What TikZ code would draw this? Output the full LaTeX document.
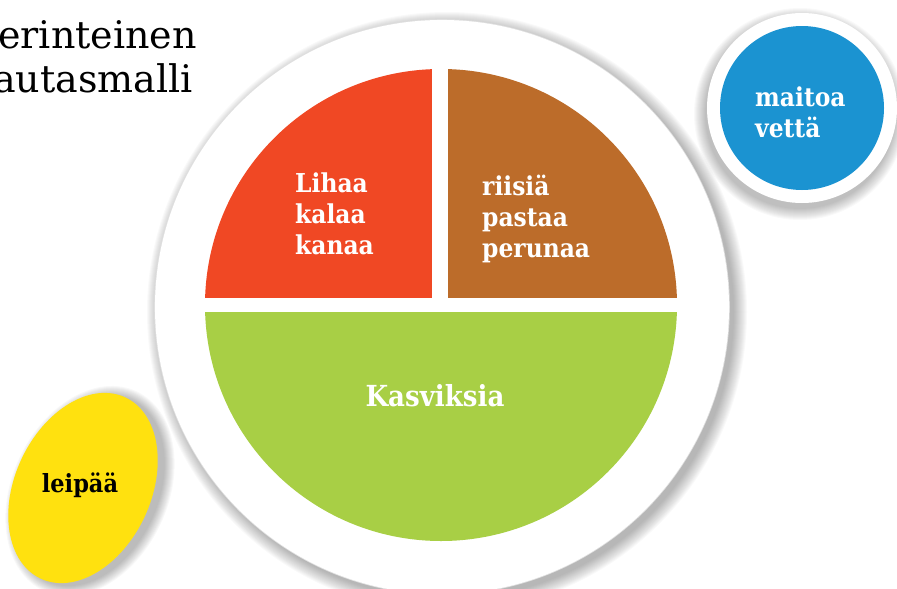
\documentclass[tikz,border=0pt]{standalone}
\usepackage{fontspec}
\setmainfont{DejaVu Serif}
\newfontfamily\labelfont{DejaVu Serif Condensed}
\definecolor{meatred}{HTML}{F04824}
\definecolor{carbbrown}{HTML}{BC6C2A}
\definecolor{veggreen}{HTML}{A8CF45}
\definecolor{milkblue}{HTML}{1B93D1}
\definecolor{breadyellow}{HTML}{FFE10F}
\tikzset{
  title/.style={anchor=base east, inner sep=0pt, font=\fontsize{38}{44}\selectfont, text=black},
  lbl/.style={anchor=base west, inner sep=0pt, font=\labelfont\bfseries\fontsize{26}{32}\selectfont, text=white},
}
\begin{document}
\begin{tikzpicture}[x=1pt,y=-1pt]
\useasboundingbox (0,0) rectangle (897,589);
\clip (0,0) rectangle (897,589);
% title (cut at left edge)
\node[title] (t1) at (197,48) {Perinteinen};
\node[title] (t2) at (193,92) {lautasmalli};
% plate shadow
\foreach \i in {0,...,13} {
  \fill[black, opacity=0.022] (447,312) circle ({300-\i});
}
\fill[black!12] (442,307) circle (287.8);
\fill[white] (442,307) circle (287);
% plate sections
\begin{scope}
  \clip (441,305) circle (236);
  \fill[meatred] (200,60) rectangle (432,298);
  \fill[carbbrown] (448,60) rectangle (690,298);
  \fill[veggreen] (200,312) rectangle (690,550);
\end{scope}
\node[lbl] (l1) at (295,192) {Lihaa};
\node[lbl] (l2) at (295,223) {kalaa};
\node[lbl] (l3) at (295,254) {kanaa};
\node[lbl] (r1) at (482,195) {riisiä};
\node[lbl] (r2) at (482,226) {pastaa};
\node[lbl] (r3) at (482,257) {perunaa};
\node[lbl, anchor=base, font=\labelfont\bfseries\fontsize{29}{32}\selectfont] (g1) at (435,406) {Kasviksia};
% drink
\foreach \i in {0,...,11} {
  \fill[black, opacity=0.025] (800,114) circle ({106-\i});
}
\fill[white] (802,108) circle (95);
\fill[milkblue] (802,108) circle (82);
\node[lbl] (d1) at (755,106) {maitoa};
\node[lbl] (d2) at (755,137) {vettä};
% bread
\foreach \i in {0,...,10} {
  \fill[black, opacity=0.028] (90,491) ellipse [x radius={68+10-\i}, y radius={100+10-\i}, rotate=-25];
}
\fill[breadyellow] (83,488) ellipse [x radius=68, y radius=100, rotate=-25];
\node[lbl, anchor=base, text=black, font=\labelfont\bfseries\fontsize{25}{28}\selectfont] (b1) at (80,492) {leipää};
\end{tikzpicture}
\end{document}
